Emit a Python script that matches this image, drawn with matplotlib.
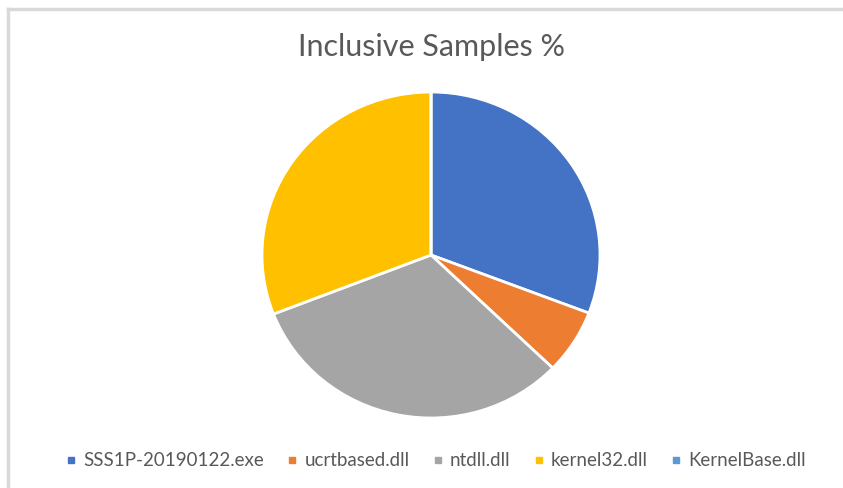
import matplotlib
matplotlib.use("Agg")
import matplotlib.pyplot as plt
from matplotlib.lines import Line2D

labels = ["SSS1P-20190122.exe", "ucrtbased.dll", "ntdll.dll", "kernel32.dll", "KernelBase.dll"]
values = [30.8, 6.4, 31.9, 30.9, 0.0]
colors = ["#4472C4", "#ED7D31", "#A5A5A5", "#FFC000", "#5B9BD5"]

W, H = 843, 488
plt.rcParams['font.family'] = ['Lato', 'DejaVu Sans']

fig = plt.figure(figsize=(W / 100, H / 100), dpi=100)

# light frame on top and left, as in the screenshot
fig.add_artist(Line2D([8 / W, 8 / W], [0, 1 - 9 / H], transform=fig.transFigure,
                      color="#d9d9d9", lw=2.5))
fig.add_artist(Line2D([8 / W, 1], [1 - 9 / H, 1 - 9 / H], transform=fig.transFigure,
                      color="#d9d9d9", lw=2.5))

# pie axes placed by pixel centre / radii (the screenshot is slightly squashed)
cx, cy, rx, ry = 431, 255, 169, 163
ax = fig.add_axes([(cx - rx) / W, 1 - (cy + ry) / H, 2 * rx / W, 2 * ry / H])
ax.pie(values, colors=colors, startangle=90, counterclock=False, radius=1,
       wedgeprops=dict(edgecolor="white", linewidth=2))
ax.set_xlim(-1.0, 1.0)
ax.set_ylim(-1.0, 1.0)
ax.set_aspect("auto")
ax.axis("off")

fig.text(432 / W, 1 - 47 / H, "Inclusive Samples %", ha="center", va="center",
         fontsize=22, color="#595959")

handles = [Line2D([], [], marker="s", linestyle="none", markersize=4,
                  markerfacecolor=c, markeredgecolor=c) for c in colors]
fig.legend(handles, labels, loc="center", bbox_to_anchor=(437 / W, 1 - 461 / H),
           ncol=5, frameon=False, fontsize=13.5, labelcolor="#595959",
           handlelength=0.3, handletextpad=0.5, columnspacing=1.35)

fig.savefig("out.png", dpi=100)
